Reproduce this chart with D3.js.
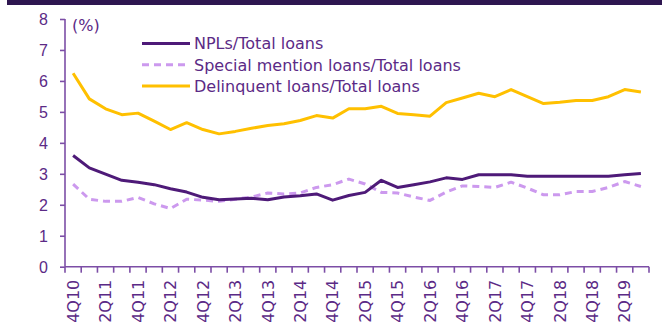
<!DOCTYPE html>
<html>
<head>
<meta charset="utf-8">
<script src="https://cdn.jsdelivr.net/npm/d3@7"></script>
<style>
  html, body { margin: 0; padding: 0; background: #fff; }
  svg { display: block; font-family: "DejaVu Sans", Verdana, sans-serif; }
</style>
</head>
<body>
<svg id="chart" width="662" height="329"></svg>
<script>
// Quarters from 4Q10 to 3Q19
const quarters = [
  "4Q10",
  "1Q11","2Q11","3Q11","4Q11",
  "1Q12","2Q12","3Q12","4Q12",
  "1Q13","2Q13","3Q13","4Q13",
  "1Q14","2Q14","3Q14","4Q14",
  "1Q15","2Q15","3Q15","4Q15",
  "1Q16","2Q16","3Q16","4Q16",
  "1Q17","2Q17","3Q17","4Q17",
  "1Q18","2Q18","3Q18","4Q18",
  "1Q19","2Q19","3Q19"
];

// Ratios, in percent
const nplRatio = [
  3.59, 3.19, 2.99, 2.79, 2.73, 2.65, 2.52, 2.41, 2.24, 2.16,
  2.19, 2.21, 2.16, 2.25, 2.29, 2.35, 2.15, 2.30, 2.40, 2.79,
  2.56, 2.65, 2.74, 2.87, 2.82, 2.97, 2.97, 2.97, 2.92, 2.92,
  2.92, 2.92, 2.92, 2.92, 2.97, 3.01
];
const specialMentionRatio = [
  2.67, 2.18, 2.11, 2.11, 2.24, 2.03, 1.88, 2.18, 2.15, 2.11,
  2.18, 2.25, 2.38, 2.35, 2.38, 2.56, 2.65, 2.83, 2.67, 2.40,
  2.38, 2.25, 2.14, 2.41, 2.61, 2.59, 2.56, 2.73, 2.54, 2.32,
  2.32, 2.43, 2.43, 2.56, 2.75, 2.59
];
const delinquentRatio = [
  6.25, 5.42, 5.10, 4.91, 4.96, 4.70, 4.43, 4.65, 4.43, 4.29,
  4.37, 4.47, 4.56, 4.62, 4.72, 4.88, 4.80, 5.10, 5.10, 5.18,
  4.95, 4.91, 4.86, 5.30, 5.45, 5.60, 5.49, 5.72, 5.49, 5.27,
  5.31, 5.37, 5.37, 5.49, 5.72, 5.64
];

const yTicks = [0, 1, 2, 3, 4, 5, 6, 7, 8];
const seriesNames = ["NPLs/Total loans", "Special mention loans/Total loans", "Delinquent loans/Total loans"];

const textColor = "#5b2a86";
const axisColor = "#7c4ea6";

const svg = d3.select("#chart");

// Banner strip across the top
svg.append("rect")
  .attr("x", 7).attr("y", 0)
  .attr("width", 655).attr("height", 5)
  .attr("fill", "#2e1650");

const margin = { left: 65, right: 13, top: 19, bottom: 62.3 };
const plotW = 662 - margin.left - margin.right;
const plotH = 329 - margin.top - margin.bottom;

const g = svg.append("g").attr("transform", `translate(${margin.left},${margin.top})`);

const x = d3.scaleBand().domain(quarters).range([0, plotW]).padding(0);
const y = d3.scaleLinear().domain([0, 8]).range([plotH, 0]);

// Y axis
const yAxis = g.append("g")
  .call(d3.axisLeft(y).tickValues(yTicks).tickSize(5).tickPadding(12).tickFormat(d3.format("d")));
yAxis.select(".domain").attr("stroke", axisColor).attr("stroke-width", 1.6).attr("d", `M0,0V${plotH}`);
yAxis.selectAll(".tick line").attr("stroke", axisColor).attr("stroke-width", 1.6);
yAxis.selectAll(".tick text").attr("fill", textColor).attr("font-size", 16).attr("dy", "0.36em");

// X axis: ticks on category boundaries, labels on every other quarter
const xg = g.append("g").attr("transform", `translate(0,${plotH})`);
xg.append("line")
  .attr("x1", 0).attr("x2", plotW).attr("y1", 0).attr("y2", 0)
  .attr("stroke", axisColor).attr("stroke-width", 1.6);
const boundaries = quarters.map(q => x(q)).concat([x(quarters[quarters.length - 1]) + x.bandwidth()]);
xg.selectAll("line.tk").data(boundaries).enter().append("line")
  .attr("class", "tk")
  .attr("x1", d => d).attr("x2", d => d)
  .attr("y1", 0).attr("y2", 6)
  .attr("stroke", axisColor).attr("stroke-width", 1.6);
xg.selectAll("text.lbl").data(quarters.filter((q, i) => i % 2 === 0)).enter().append("text")
  .attr("class", "lbl")
  .attr("transform", d => `translate(${x(d) + x.bandwidth() / 2},13) rotate(-90)`)
  .attr("text-anchor", "end")
  .attr("dy", "0.36em")
  .attr("fill", textColor)
  .attr("font-size", 16)
  .text(d => d);

// Unit label
g.append("text")
  .attr("x", 7).attr("y", 12)
  .attr("fill", textColor).attr("font-size", 16)
  .text("(%)");

const line = d3.line()
  .x((d, i) => x(quarters[i]) + x.bandwidth() / 2)
  .y(d => y(d));

const series = [
  { name: seriesNames[0], values: nplRatio, color: "#4e1a78", dash: null },
  { name: seriesNames[1], values: specialMentionRatio, color: "#cc99ee", dash: "7,5" },
  { name: seriesNames[2], values: delinquentRatio, color: "#ffc000", dash: null }
];

// Draw delinquent first, then special mention, then NPL on top
[series[2], series[1], series[0]].forEach(s => {
  g.append("path")
    .datum(s.values)
    .attr("fill", "none")
    .attr("stroke", s.color)
    .attr("stroke-width", 3)
    .attr("stroke-linejoin", "round")
    .attr("stroke-dasharray", s.dash)
    .attr("d", line);
});

// Legend
const legend = svg.append("g").attr("transform", "translate(142,43.5)");
series.forEach((s, i) => {
  const row = legend.append("g").attr("transform", `translate(0,${i * 21.3})`);
  row.append("line")
    .attr("x1", 0).attr("x2", 48).attr("y1", 0).attr("y2", 0)
    .attr("stroke", s.color).attr("stroke-width", 3)
    .attr("stroke-dasharray", s.dash);
  row.append("text")
    .attr("x", 52).attr("y", 0).attr("dy", "0.36em")
    .attr("fill", textColor).attr("font-size", 16)
    .text(s.name);
});
</script>
</body>
</html>
